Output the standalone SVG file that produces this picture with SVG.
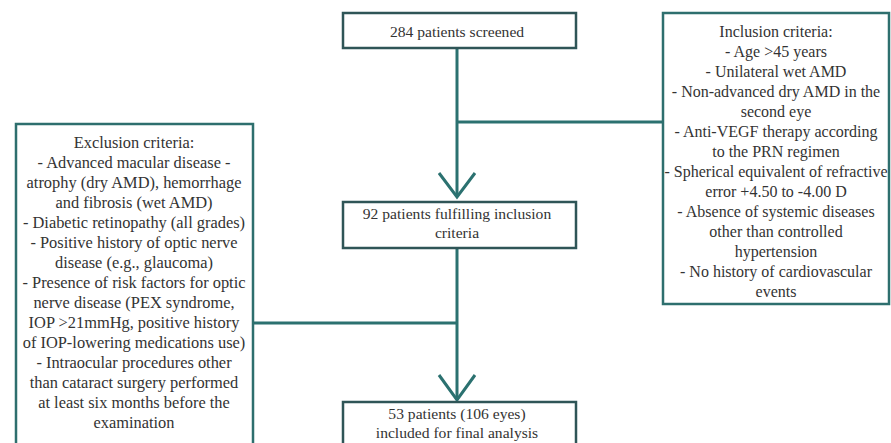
<svg xmlns="http://www.w3.org/2000/svg" width="891" height="443" viewBox="0 0 891 443">
<style>
  .bg { fill: #ffffff; }
  .box { fill: #ffffff; stroke: #2f5557; stroke-width: 2.5; }
  .side { fill: #ffffff; stroke: #2e6f6e; stroke-width: 2.5; }
  .t { font-family: "Liberation Serif", "Times New Roman", serif; font-size: 15.6px; fill: #333333; text-anchor: middle; }
  .s { font-family: "Liberation Serif", "Times New Roman", serif; font-size: 16.4px; fill: #333333; text-anchor: middle; }
  .i { font-family: "Liberation Serif", "Times New Roman", serif; font-size: 16px; fill: #333333; text-anchor: middle; }
  .ln { fill: none; stroke: #2b7170; stroke-width: 3; }
</style>
<rect class="bg" x="0" y="0" width="891" height="443"/>
<g id="connectors">
  <path class="ln" d="M457,48 V197"/>
  <path class="ln" d="M457,122 H663"/>
  <path class="ln" d="M439,173 L457,197 L475,173"/>
  <path class="ln" d="M457,248 V400"/>
  <path class="ln" d="M253,323 H457"/>
  <path class="ln" d="M439,375 L457,400 L475,375"/>
</g>
<g id="screened">
  <rect class="box" x="343" y="13" width="233" height="35"/>
  <text class="t" x="457" y="37">284 patients screened</text>
</g>
<g id="inclusion">
  <rect class="side" x="663" y="13" width="226" height="291"/>
  <text class="i" x="776" y="37">Inclusion criteria:</text>
  <text class="i" x="776" y="57">- Age &gt;45 years</text>
  <text class="i" x="776" y="77">- Unilateral wet AMD</text>
  <text class="i" x="776" y="97">- Non-advanced dry AMD in the</text>
  <text class="i" x="776" y="117">second eye</text>
  <text class="i" x="776" y="137">- Anti-VEGF therapy according</text>
  <text class="i" x="776" y="157">to the PRN regimen</text>
  <text class="i" x="776" y="177">- Spherical equivalent of refractive</text>
  <text class="i" x="776" y="197">error +4.50 to -4.00 D</text>
  <text class="i" x="776" y="217">- Absence of systemic diseases</text>
  <text class="i" x="776" y="237">other than controlled</text>
  <text class="i" x="776" y="257">hypertension</text>
  <text class="i" x="776" y="277">- No history of cardiovascular</text>
  <text class="i" x="776" y="297">events</text>
</g>
<g id="fulfilling">
  <rect class="box" x="343" y="202" width="233" height="46"/>
  <text class="t" x="457" y="219">92 patients fulfilling inclusion</text>
  <text class="t" x="457" y="238">criteria</text>
</g>
<g id="exclusion">
  <rect class="side" x="16" y="124" width="237" height="330"/>
  <text class="s" x="134" y="148">Exclusion criteria:</text>
  <text class="s" x="134" y="168">- Advanced macular disease -</text>
  <text class="s" x="134" y="188">atrophy (dry AMD), hemorrhage</text>
  <text class="s" x="134" y="208">and fibrosis (wet AMD)</text>
  <text class="s" x="134" y="228">- Diabetic retinopathy (all grades)</text>
  <text class="s" x="134" y="248">- Positive history of optic nerve</text>
  <text class="s" x="134" y="268">disease (e.g., glaucoma)</text>
  <text class="s" x="134" y="288">- Presence of risk factors for optic</text>
  <text class="s" x="134" y="308">nerve disease (PEX syndrome,</text>
  <text class="s" x="134" y="328">IOP &gt;21mmHg, positive history</text>
  <text class="s" x="134" y="348">of IOP-lowering medications use)</text>
  <text class="s" x="134" y="368">- Intraocular procedures other</text>
  <text class="s" x="134" y="388">than cataract surgery performed</text>
  <text class="s" x="134" y="408">at least six months before the</text>
  <text class="s" x="134" y="428">examination</text>
</g>
<g id="final">
  <rect class="box" x="343" y="402" width="233" height="52"/>
  <text class="t" x="457" y="419">53 patients (106 eyes)</text>
  <text class="t" x="457" y="438">included for final analysis</text>
</g>
</svg>
